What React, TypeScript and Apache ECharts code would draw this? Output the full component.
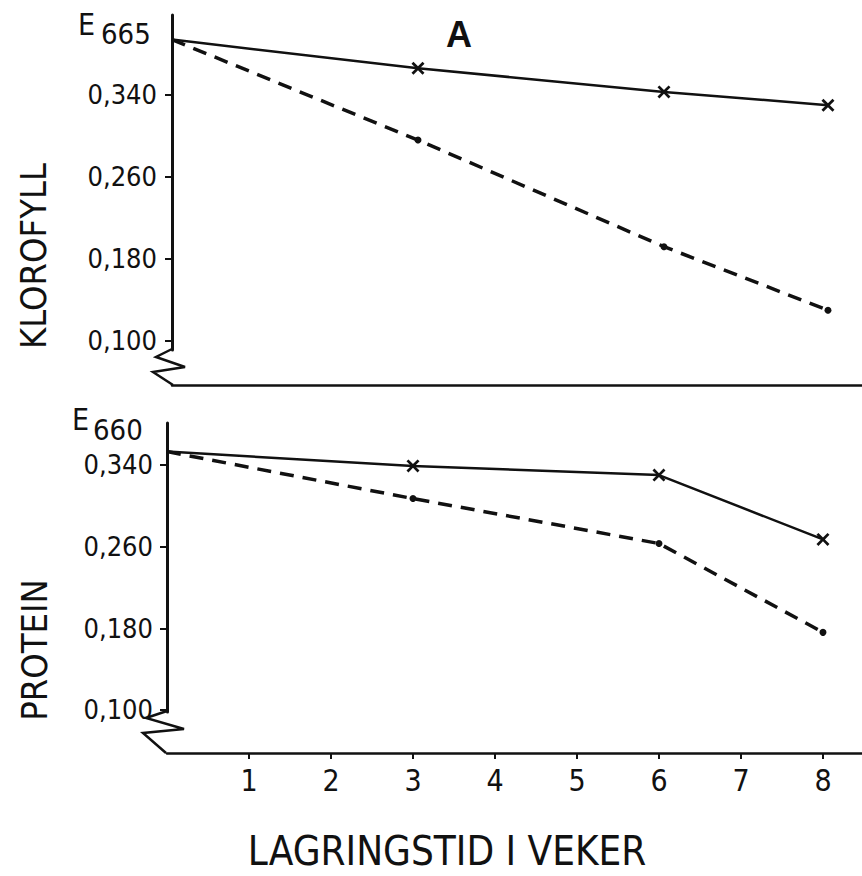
import React, { useEffect, useRef } from "react";
import * as echarts from "echarts";

// Storage time in weeks
const weeks = [0, 3, 6, 8];
// Chlorophyll extinction at 665 nm
const klorofyllSolid = [0.394, 0.366, 0.343, 0.33];
const klorofyllDashed = [0.394, 0.296, 0.192, 0.13];
// Protein extinction at 660 nm
const proteinSolid = [0.353, 0.339, 0.33, 0.267];
const proteinDashed = [0.353, 0.307, 0.263, 0.176];

const yTicks = [0.1, 0.18, 0.26, 0.34];
const xTicks = [1, 2, 3, 4, 5, 6, 7, 8];

const INK = "#111";
const FONT = "'DejaVu Sans Condensed', 'DejaVu Sans', sans-serif";
const CROSS = "path://M0,1.5L1.5,0L5,3.5L8.5,0L10,1.5L6.5,5L10,8.5L8.5,10L5,6.5L1.5,10L0,8.5L3.5,5Z";

const toPoints = (vals: number[]) =>
  weeks.map((w, i) => (i === 0 ? { value: [w, vals[i]], symbol: "none" } : [w, vals[i]]));

const fmt = (v: number) => v.toFixed(3).replace(".", ",");

export default function App() {
  const ref = useRef<HTMLDivElement>(null);

  useEffect(() => {
    document.body.style.margin = "0";
    const chart = echarts.init(ref.current!, null, { renderer: "svg" });

    const yAxisBase = (min: number, max: number, gridIndex: number, margin: number) => ({
      type: "value" as const,
      gridIndex,
      min,
      max,
      axisLine: { show: true, lineStyle: { color: INK, width: 3 } },
      axisTick: { show: true, length: 7, customValues: yTicks, lineStyle: { color: INK, width: 2 } },
      axisLabel: {
        customValues: yTicks,
        formatter: fmt,
        color: INK,
        fontFamily: FONT,
        fontSize: 27,
        margin,
      },
      splitLine: { show: false },
    });

    const solid = (vals: number[], idx: number) => ({
      type: "line",
      xAxisIndex: idx,
      yAxisIndex: idx,
      data: toPoints(vals),
      symbol: CROSS,
      symbolSize: 13,
      itemStyle: { color: INK },
      lineStyle: { color: INK, width: 2.5 },
      z: 3,
    });

    const dashed = (vals: number[], idx: number) => ({
      type: "line",
      xAxisIndex: idx,
      yAxisIndex: idx,
      data: toPoints(vals),
      symbol: "circle",
      symbolSize: 7,
      itemStyle: { color: INK },
      lineStyle: { color: INK, width: 3.5, type: [14, 9] },
      z: 2,
    });

    chart.setOption({
      animation: false,
      backgroundColor: "#fff",
      grid: [
        { left: 172, right: 0, top: 15, bottom: 526 },
        { left: 167, right: 0, top: 423, bottom: 164 },
      ],
      xAxis: [
        {
          type: "value",
          gridIndex: 0,
          min: 0,
          max: 8.415,
          offset: 35,
          axisLine: { show: true, onZero: false, lineStyle: { color: INK, width: 2.5 } },
          axisTick: { show: false },
          axisLabel: { show: false },
          splitLine: { show: false },
        },
        {
          type: "value",
          gridIndex: 1,
          min: 0,
          max: 8.476,
          offset: 41,
          axisLine: { show: true, onZero: false, lineStyle: { color: INK, width: 2.5 } },
          axisTick: { show: true, length: 6, customValues: xTicks, lineStyle: { color: INK, width: 2 } },
          axisLabel: {
            customValues: xTicks,
            color: INK,
            fontFamily: FONT,
            fontSize: 30,
            margin: 12,
          },
          splitLine: { show: false },
        },
      ],
      yAxis: [yAxisBase(0.0912, 0.418, 0, 15), yAxisBase(0.098, 0.381, 1, 14)],
      series: [
        solid(klorofyllSolid, 0),
        dashed(klorofyllDashed, 0),
        solid(proteinSolid, 1),
        dashed(proteinDashed, 1),
      ],
      graphic: [
        // axis breaks
        {
          type: "polyline",
          shape: { points: [[172, 349], [156, 357], [185, 367], [153, 372], [173, 385]] },
          style: { stroke: INK, lineWidth: 2.5, fill: null },
        },
        {
          type: "polyline",
          shape: { points: [[167, 711], [146, 718], [184, 729], [143, 733], [166, 753]] },
          style: { stroke: INK, lineWidth: 2.5, fill: null },
        },
        // axis unit labels
        { type: "text", x: 78, y: 24, style: { text: "E", font: `30px ${FONT}`, fill: INK, verticalAlign: "middle" } },
        { type: "text", x: 101, y: 34, style: { text: "665", font: `29px ${FONT}`, fill: INK, verticalAlign: "middle" } },
        { type: "text", x: 72, y: 419, style: { text: "E", font: `30px ${FONT}`, fill: INK, verticalAlign: "middle" } },
        { type: "text", x: 93, y: 430, style: { text: "660", font: `29px ${FONT}`, fill: INK, verticalAlign: "middle" } },
        // panel letter
        {
          type: "text",
          x: 459,
          y: 34,
          style: { text: "A", font: `bold 36px 'Liberation Sans', Arial, sans-serif`, fill: INK, align: "center", verticalAlign: "middle" },
        },
        // panel titles
        {
          type: "text",
          x: 33,
          y: 256,
          rotation: Math.PI / 2,
          style: { text: "KLOROFYLL", font: `36px ${FONT}`, fill: INK, align: "center", verticalAlign: "middle" },
        },
        {
          type: "text",
          x: 34,
          y: 650,
          rotation: Math.PI / 2,
          style: { text: "PROTEIN", font: `36px ${FONT}`, fill: INK, align: "center", verticalAlign: "middle" },
        },
        // x-axis title
        {
          type: "text",
          x: 447,
          y: 851,
          style: { text: "LAGRINGSTID I VEKER", font: `40px ${FONT}`, fill: INK, align: "center", verticalAlign: "middle" },
        },
      ],
    });

    return () => chart.dispose();
  }, []);

  return <div ref={ref} style={{ width: 862, height: 876 }} />;
}
